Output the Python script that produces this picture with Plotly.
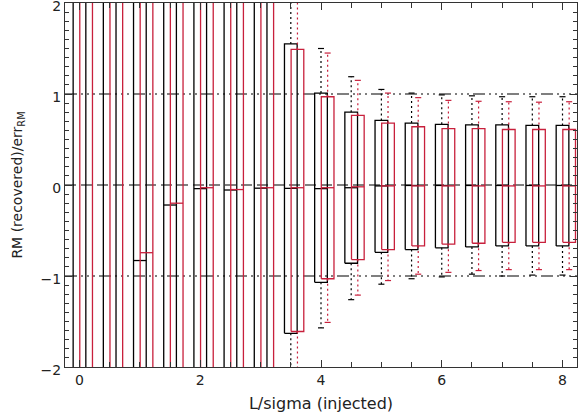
import plotly.graph_objects as go

# group positions (L/sigma injected)
x_pos = [0.0, 0.5, 1.0, 1.5, 2.0, 2.5, 3.0, 3.5, 4.0, 4.5, 5.0, 5.5, 6.0, 6.5, 7.0, 7.5, 8.0]

# black series: box statistics
med_k = [-4.0, -2.8, -0.83, -0.22, -0.04, -0.055, -0.035, -0.037, -0.04, -0.03, -0.01, -0.005, -0.005, -0.005, -0.005, -0.005, -0.005]
q3_k = [40.0, 30.0, 20.0, 12.0, 8.0, 6.0, 4.5, 1.55, 1.01, 0.80, 0.71, 0.68, 0.667, 0.66, 0.66, 0.655, 0.655]
q1_k = [-40.0, -30.0, -20.0, -12.0, -8.0, -6.0, -4.5, -1.63, -1.07, -0.86, -0.74, -0.71, -0.69, -0.68, -0.67, -0.67, -0.67]
hi_k = [80.0, 60.0, 40.0, 25.0, 16.0, 12.0, 9.0, 3.0, 1.50, 1.19, 1.05, 1.01, 0.99, 0.98, 0.97, 0.97, 0.97]
lo_k = [-80.0, -60.0, -40.0, -25.0, -16.0, -12.0, -9.0, -3.1, -1.57, -1.26, -1.09, -1.03, -1.01, -0.98, -1.0, -0.99, -0.99]

# red series: box statistics
med_r = [-4.2, -3.0, -0.744, -0.20, -0.03, -0.05, -0.03, -0.03, -0.03, -0.02, -0.01, -0.01, -0.01, -0.01, -0.01, -0.01, -0.01]
q3_r = [38.0, 28.0, 19.0, 11.0, 7.5, 5.8, 4.3, 1.49, 0.97, 0.766, 0.68, 0.64, 0.62, 0.62, 0.61, 0.61, 0.61]
q1_r = [-38.0, -28.0, -19.0, -11.0, -7.5, -5.8, -4.3, -1.61, -1.03, -0.82, -0.71, -0.67, -0.65, -0.64, -0.63, -0.63, -0.63]
hi_r = [76.0, 56.0, 38.0, 24.0, 15.0, 11.0, 8.5, 2.9, 1.45, 1.15, 1.01, 0.96, 0.93, 0.92, 0.915, 0.91, 0.915]
lo_r = [-76.0, -56.0, -38.0, -24.0, -15.0, -11.0, -8.5, -3.0, -1.51, -1.21, -1.05, -0.98, -0.96, -0.94, -0.93, -0.93, -0.93]

# horizontal reference levels
ref_levels = [1, 0, -1]

BLACK = "#000000"
RED = "#c8203c"
BOX_W = 0.21
CAP_W = 0.10
RED_SHIFT = 0.11
X_RANGE = [-0.24, 8.24]
FONT = "DejaVu Sans, Liberation Sans, sans-serif"


def box_traces(xs, med, q1, q3, lo, hi, color, shift):
    bx, by, wx, wy, cx, cy = [], [], [], [], [], []
    for x, m, a, b, l, h in zip(xs, med, q1, q3, lo, hi):
        c = x + shift
        x0, x1 = c - BOX_W / 2, c + BOX_W / 2
        # box outline
        bx += [x0, x1, x1, x0, x0, None]
        by += [a, a, b, b, a, None]
        # median
        bx += [x0, x1, None]
        by += [m, m, None]
        # whiskers
        wx += [c, c, None, c, c, None]
        wy += [b, h, None, a, l, None]
        # caps
        cx += [c - CAP_W / 2, c + CAP_W / 2, None, c - CAP_W / 2, c + CAP_W / 2, None]
        cy += [h, h, None, l, l, None]
    return [
        go.Scatter(x=wx, y=wy, mode="lines", line=dict(color=color, width=1.2, dash="2px,3px"),
                   hoverinfo="skip", showlegend=False),
        go.Scatter(x=cx, y=cy, mode="lines", line=dict(color=color, width=1.2),
                   hoverinfo="skip", showlegend=False),
        go.Scatter(x=bx, y=by, mode="lines", line=dict(color=color, width=1.3),
                   hoverinfo="skip", showlegend=False),
    ]


fig = go.Figure()

# reference lines: dash-dot-dot-dot at +-1, dashed at 0
for yv in ref_levels:
    dash = "11px,5px" if yv == 0 else "12px,4px,2px,4px,2px,4px,2px,4px"
    fig.add_trace(go.Scatter(x=X_RANGE, y=[yv, yv], mode="lines",
                             line=dict(color=BLACK, width=1.1, dash=dash),
                             hoverinfo="skip", showlegend=False))

for tr in box_traces(x_pos, med_k, q1_k, q3_k, lo_k, hi_k, BLACK, 0.0):
    fig.add_trace(tr)
for tr in box_traces(x_pos, med_r, q1_r, q3_r, lo_r, hi_r, RED, RED_SHIFT):
    fig.add_trace(tr)

axis_style = dict(
    showline=True, linecolor="#333333", linewidth=1.2, mirror="allticks",
    ticks="inside", ticklen=7, tickcolor="#333333", tickwidth=1,
    showgrid=False, zeroline=False, ticklabeloverflow="allow",
    tickfont=dict(size=14, color="#222222"),
)

fig.update_xaxes(
    range=X_RANGE, tickvals=[0, 2, 4, 6, 8],
    minor=dict(dtick=0.5, ticks="inside", ticklen=5, tickcolor="#333333"),
    title=dict(text="L/sigma (injected)", font=dict(size=16, color="#222222"), standoff=10),
    **axis_style,
)
fig.update_yaxes(
    range=[-2, 2], tickvals=[-2, -1, 0, 1, 2], ticklabelshift=3,
    minor=dict(dtick=0.1, ticks="inside", ticklen=4, tickcolor="#333333"),
    title=dict(text="RM (recovered)/err<sub>RM</sub>", font=dict(size=14, color="#222222"), standoff=14),
    **axis_style,
)

fig.update_layout(
    width=584, height=417,
    margin=dict(l=65, r=7, t=3, b=50, autoexpand=False),
    plot_bgcolor="white", paper_bgcolor="white",
    font=dict(family=FONT),
)

fig.write_html("out.html", config={"displayModeBar": False},
               post_script="document.body.style.margin='0';")
